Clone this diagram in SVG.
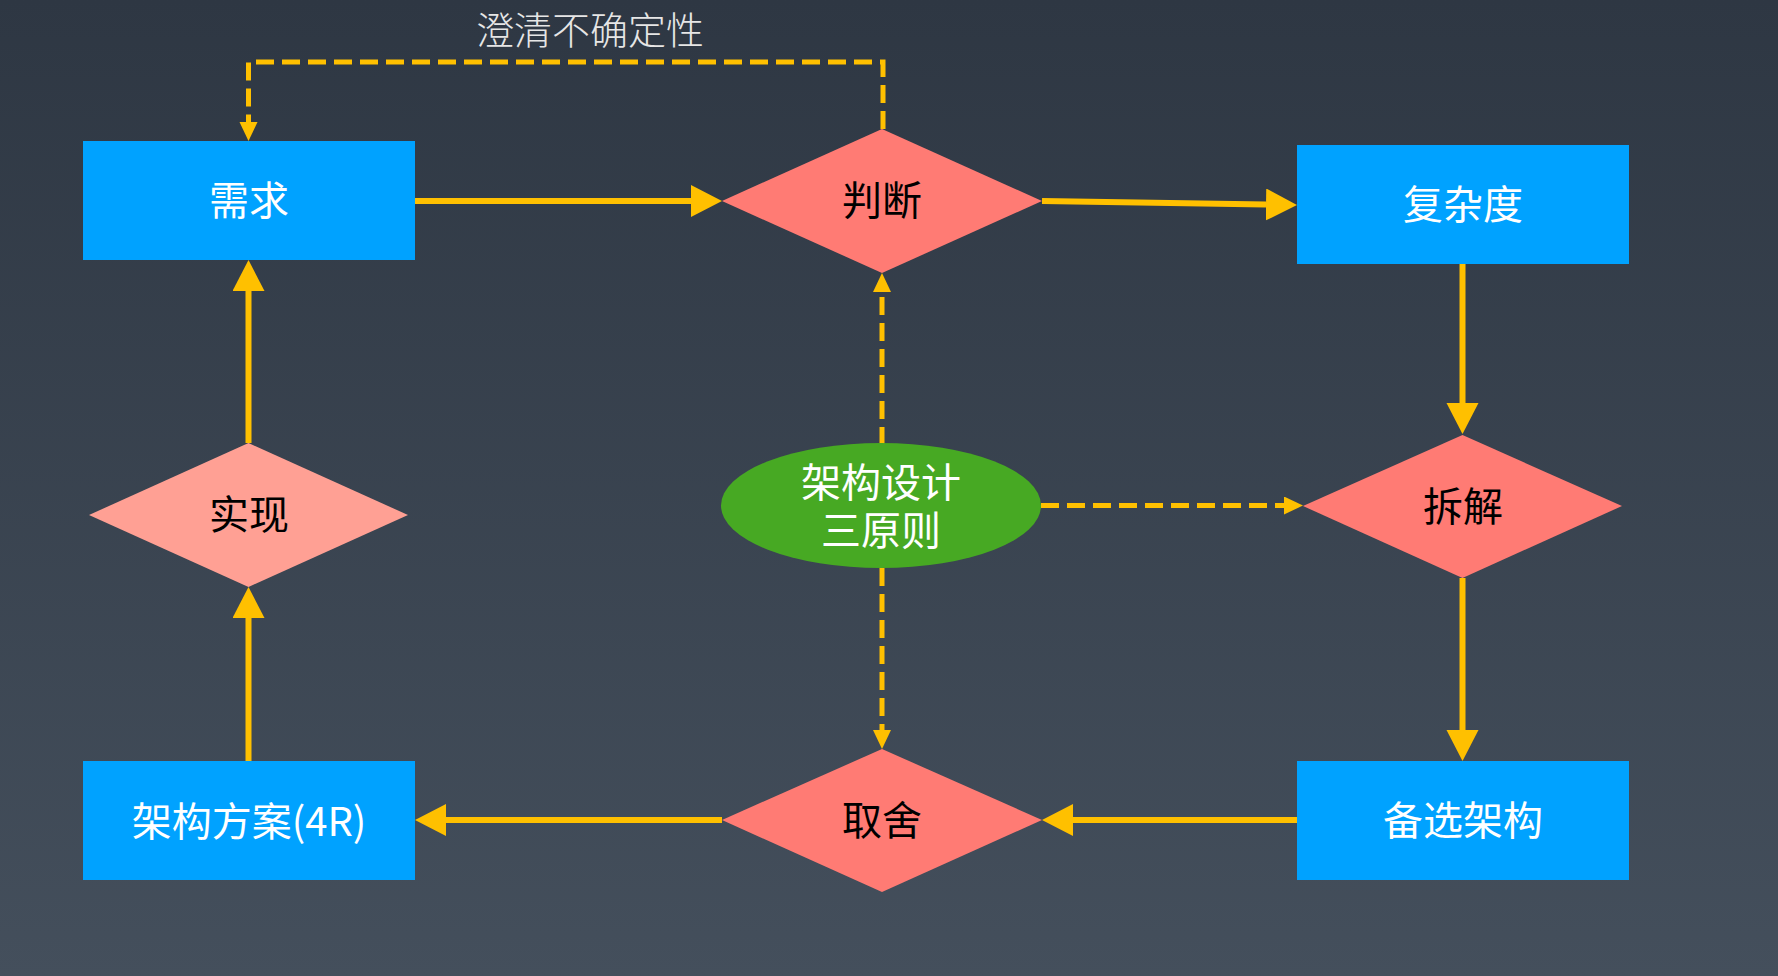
<svg xmlns="http://www.w3.org/2000/svg" width="1778" height="976" viewBox="0 0 1778 976">
<defs>
<linearGradient id="bg" x1="0" y1="0" x2="0" y2="1">
<stop offset="0" stop-color="#2e3743"/>
<stop offset="1" stop-color="#444f5c"/>
</linearGradient>
<marker id="arr" markerUnits="userSpaceOnUse" markerWidth="32" markerHeight="33" refX="0" refY="16" orient="auto">
<path d="M0,0 L31,16 L0,32 Z" fill="#ffc000"/>
</marker>
<marker id="arrS" markerUnits="userSpaceOnUse" markerWidth="20" markerHeight="19" refX="0" refY="9" orient="auto">
<path d="M0,0 L19,9 L0,18 Z" fill="#ffc000"/>
</marker>
<style>
.box{fill:#00a2ff}
.dia{fill:#ff7b74}
.dia2{fill:#ffa094}
.ell{fill:#47a923}
.tw{fill:#ffffff;font-family:"Noto Sans CJK SC","Noto Sans",sans-serif;font-size:40px;text-anchor:middle}
.tb{fill:#000000;font-family:"Noto Sans CJK SC","Noto Sans",sans-serif;font-size:40px;text-anchor:middle}
.title{fill:#e6e6e6;font-family:"Noto Sans CJK SC",sans-serif;font-weight:300;font-size:38px;text-anchor:middle}
.solid{fill:none;stroke:#ffc000;stroke-width:6;marker-end:url(#arr)}
.dash{fill:none;stroke:#ffc000;stroke-width:5;stroke-dasharray:18 8;marker-end:url(#arrS)}
</style>
</defs>
<rect x="0" y="0" width="1778" height="976" fill="url(#bg)"/>
<text class="title" x="590" y="44">澄清不确定性</text>
<g id="connectors">
<path class="solid" d="M415,201 H691"/>
<path class="solid" d="M1042,201 L1266,204.5"/>
<path class="solid" d="M1462.5,264 V403"/>
<path class="solid" d="M1462.5,578 V730"/>
<path class="solid" d="M1297,820 H1073"/>
<path class="solid" d="M722,820 H446"/>
<path class="solid" d="M248.5,761 V618"/>
<path class="solid" d="M248.5,443 V291"/>
<path class="dash" d="M883,129 V62 H248.5 V122"/>
<path class="dash" d="M882,445 V292"/>
<path class="dash" d="M882,568 V730"/>
<path class="dash" d="M1041,505.5 H1284"/>
</g>
<g id="xuqiu">
<rect class="box" x="83" y="141" width="332" height="119"/>
<text class="tw" x="249" y="215">需求</text>
</g>
<g id="panduan">
<polygon class="dia" points="722,201 882,129 1042,201 882,273"/>
<text class="tb" x="882" y="215">判断</text>
</g>
<g id="fuzadu">
<rect class="box" x="1297" y="145" width="332" height="119"/>
<text class="tw" x="1463" y="219">复杂度</text>
</g>
<g id="chaijie">
<polygon class="dia" points="1303,506 1462.5,435 1622,506 1462.5,578"/>
<text class="tb" x="1463" y="521">拆解</text>
</g>
<g id="beixuan">
<rect class="box" x="1297" y="761" width="332" height="119"/>
<text class="tw" x="1463" y="835">备选架构</text>
</g>
<g id="qushe">
<polygon class="dia" points="722,820 882,749 1042,820 882,892"/>
<text class="tb" x="882" y="835">取舍</text>
</g>
<g id="fangan">
<rect class="box" x="83" y="761" width="332" height="119"/>
<text class="tw" x="249" y="836">架构方案(4R)</text>
</g>
<g id="shixian">
<polygon class="dia2" points="89,515 248.5,443 408,515 248.5,587"/>
<text class="tb" x="249" y="529">实现</text>
</g>
<g id="sanyuanze">
<ellipse class="ell" cx="881" cy="505.5" rx="160" ry="62.5"/>
<text class="tw" x="881" y="497">架构设计</text>
<text class="tw" x="881" y="545">三原则</text>
</g>
</svg>
